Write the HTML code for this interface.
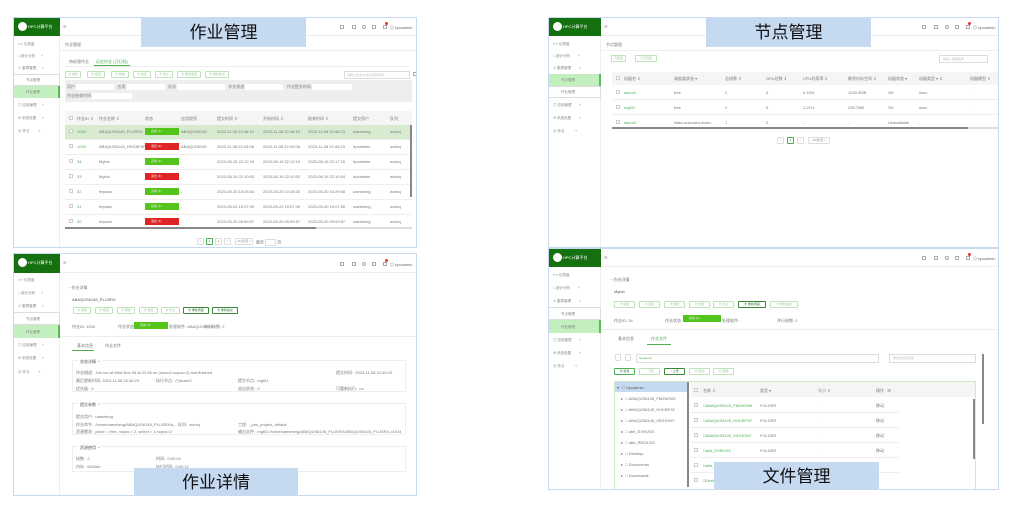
<!DOCTYPE html>
<html><head><meta charset="utf-8">
<style>
*{margin:0;padding:0;box-sizing:border-box}
body{width:1024px;height:505px;background:#fff;position:relative;overflow:hidden;font-family:"Liberation Sans","Noto Sans CJK SC",sans-serif;font-size:4px;color:#777}
.p{position:absolute;border:1px solid #c7daf2;background:#fff;overflow:hidden}
.a{position:absolute;white-space:nowrap}
.logo{position:absolute;left:0;top:0;height:18px;background:#15700f;color:#fff;font-size:4px;line-height:18px;padding-left:14px}
.logo:before{content:"";position:absolute;left:4px;top:4px;width:9px;height:9px;border-radius:50%;background:#fff}
.side{position:absolute;left:0;top:18px;bottom:0;border-right:1px solid #eee;background:#fff}
.hd{position:absolute;top:0;right:0;height:18px;border-bottom:1px solid #eee}
.si{position:absolute;left:4px;font-size:3.5px;color:#888}
.sub1{position:absolute;left:0;height:12px;background:#fff;border:1px solid #ddd;border-left:none}
.sub2{position:absolute;left:0;height:12px;background:#c3eebd;border-right:2px solid #5cb85c}
.lbl{position:absolute;background:#c5d9f1;color:#111;font-size:17px;text-align:center;font-family:"Liberation Sans","Noto Sans CJK SC",sans-serif}
.btn{position:absolute;height:7px;border:1px solid #bfe3b8;border-radius:1px;font-size:3px;color:#9c9;text-align:center;line-height:5px}
.btn.d{border-color:#3a8a3a;color:#2a6a2a}
.g{color:#4caf50}
.gb{position:absolute;background:#52c41a;color:#eee;font-size:3px;line-height:7px;padding-left:6px}
.rb{position:absolute;background:#e02424;color:#eee;font-size:3px;line-height:7px;padding-left:6px}
.cb{position:absolute;width:4px;height:4px;border:1px solid #ccc;background:#fff}
.ln{position:absolute;height:1px;background:#eee}
.box{position:absolute;border:1px solid #eee}
.ic{position:absolute;width:4px;height:4px;border:1px solid #aaa}
.dot{position:absolute;width:3px;height:3px;border-radius:50%;background:#e33}
</style></head><body>

<!-- PANEL 1 -->
<div class="p" style="left:13px;top:17px;width:404px;height:231px">
 <div class="side" style="width:46px"></div>
 <div class="logo" style="width:46px">HPC计算平台</div>
 <div class="hd" style="left:46px"></div>
 <div class="a" style="left:49px;top:6px;color:#888">☰</div>
 <div class="ic" style="left:326px;top:7px"></div><div class="ic" style="left:338px;top:7px"></div><div class="ic" style="left:348px;top:7px;border-radius:50%"></div><div class="ic" style="left:358px;top:7px"></div><div class="ic" style="left:369px;top:7px"></div><div class="dot" style="left:371px;top:4px"></div>
 <div class="a" style="left:376px;top:7px;color:#666">◎ hpcadmin</div>
 <div class="si" style="top:24px">⟺ 仪表盘</div>
 <div class="si" style="top:36px">□ 统计分析 &nbsp;&nbsp;&nbsp;&nbsp;&nbsp;˅</div>
 <div class="si" style="top:48px">♙ 集群管理 &nbsp;&nbsp;&nbsp;&nbsp;&nbsp;˄</div>
 <div class="sub1" style="top:56px;width:46px"></div><div class="si" style="left:12px;top:60px">节点管理</div>
 <div class="sub2" style="top:68px;width:46px"></div><div class="si" style="left:12px;top:72px">作业管理</div>
 <div class="si" style="top:85px">▤ 应用管理 &nbsp;&nbsp;&nbsp;&nbsp;&nbsp;˅</div>
 <div class="si" style="top:98px">⚙ 系统设置 &nbsp;&nbsp;&nbsp;&nbsp;&nbsp;˅</div>
 <div class="si" style="top:111px">▣ 作业 &nbsp;&nbsp;&nbsp;&nbsp;&nbsp;&nbsp;&nbsp;&nbsp;˅</div>
 <div class="a" style="left:51px;top:24px">作业管理</div>
 <div class="ln" style="left:46px;right:0;top:32px"></div>
 <div class="a" style="left:55px;top:41px">待处理作业</div>
 <div class="a g" style="left:82px;top:41px">历史作业 (已归档)</div>
 <div class="ln" style="left:51px;right:6px;top:48px"></div>
 <div class="a" style="left:80px;top:47px;width:36px;height:1px;background:#4caf50"></div>
 <div class="btn" style="left:51px;top:53px;width:16px">⊕ 编辑</div>
 <div class="btn" style="left:73px;top:53px;width:18px">⊕ 挂起</div>
 <div class="btn" style="left:97px;top:53px;width:18px">⊕ 释放</div>
 <div class="btn" style="left:119px;top:53px;width:18px">⊕ 恢复</div>
 <div class="btn" style="left:141px;top:53px;width:18px">⊕ 停止</div>
 <div class="btn" style="left:163px;top:53px;width:24px">⊕ 重新调度</div>
 <div class="btn" style="left:191px;top:53px;width:24px">⊕ 重新提交</div>
 <div class="box" style="left:330px;top:53px;width:66px;height:8px;border-color:#ddd"></div>
 <div class="a" style="left:333px;top:55px;font-size:3px;color:#bbb">请输入作业ID/作业名称搜索</div>
 <div class="ic" style="left:399px;top:54px"></div>
 <div class="a" style="left:51px;top:62px;width:347px;height:22px;background:#eee"></div>
 <div class="a" style="left:53px;top:66px">用户 <span style="display:inline-block;width:38px;height:6px;background:#fff;vertical-align:middle"></span> &nbsp;&nbsp;应用 <span style="display:inline-block;width:38px;height:6px;background:#fff;vertical-align:middle"></span> &nbsp;&nbsp;队列 <span style="display:inline-block;width:48px;height:6px;background:#fff;vertical-align:middle"></span> &nbsp;&nbsp;作业状态 <span style="display:inline-block;width:38px;height:6px;background:#fff;vertical-align:middle"></span> &nbsp;&nbsp;作业提交时间 <span style="display:inline-block;width:40px;height:6px;background:#fff;vertical-align:middle"></span></div>
 <div class="a" style="left:53px;top:75px">作业结束时间 <span style="display:inline-block;width:40px;height:6px;background:#fff;vertical-align:middle"></span></div>
 <div class="a" style="left:51px;top:93px;width:347px;height:14px;background:#f5f5f5"></div>
 <div class="a" style="left:51px;top:107px;width:347px;height:14px;background:#d6ebd0"></div>
 <div class="a" style="top:98px;left:55px;width:343px">
  <div class="cb" style="left:0;top:0"></div><div class="a" style="left:8px">作业ID ⇕</div><div class="a" style="left:30px">作业名称 ⇕</div><div class="a" style="left:76px">状态</div><div class="a" style="left:112px">应用程序</div><div class="a" style="left:148px">提交时间 ⇕</div><div class="a" style="left:194px">开始时间 ⇕</div><div class="a" style="left:239px">结束时间 ⇕</div><div class="a" style="left:284px">提交用户</div><div class="a" style="left:321px">队列</div>
 </div>
 <div class="a" style="top:106px;left:55px;width:343px;height:105px">
  <div class="a" style="top:0;left:0;width:343px;height:15px"><div class="cb" style="top:5px"></div><div class="a g" style="left:8px;top:5px">1034</div><div class="a" style="left:30px;top:5px">ABAQUS6145_PLUSRX</div><div class="gb" style="left:76px;top:4px;width:34px">完成 (F)</div><div class="a" style="left:112px;top:5px">ABAQUS6145</div><div class="a" style="left:148px;top:5px">2023-11-08 22:46:10</div><div class="a" style="left:194px;top:5px">2023-11-08 22:46:10</div><div class="a" style="left:239px;top:5px">2023-11-08 22:46:23</div><div class="a" style="left:284px;top:5px">uaesheng</div><div class="a" style="left:321px;top:5px">workq</div></div>
  <div class="ln" style="top:15px;left:-4px;width:347px"></div>
  <div class="a" style="top:15px;left:0;width:343px;height:15px"><div class="cb" style="top:5px"></div><div class="a g" style="left:8px;top:5px">1033</div><div class="a" style="left:30px;top:5px">ABAQUS6145_HHCBFSF</div><div class="rb" style="left:76px;top:4px;width:34px">退出 (F)</div><div class="a" style="left:112px;top:5px">ABAQUS6145</div><div class="a" style="left:148px;top:5px">2023-11-08 22:43:08</div><div class="a" style="left:194px;top:5px">2023-11-08 22:43:08</div><div class="a" style="left:239px;top:5px">2023-11-08 22:44:23</div><div class="a" style="left:284px;top:5px">hpcadmin</div><div class="a" style="left:321px;top:5px">workq</div></div>
  <div class="ln" style="top:30px;left:-4px;width:347px"></div>
  <div class="a" style="top:30px;left:0;width:343px;height:15px"><div class="cb" style="top:5px"></div><div class="a g" style="left:8px;top:5px">34</div><div class="a" style="left:30px;top:5px">Mylob</div><div class="gb" style="left:76px;top:4px;width:34px">完成 (F)</div><div class="a" style="left:112px;top:5px">-</div><div class="a" style="left:148px;top:5px">2023-06-19 22:12:19</div><div class="a" style="left:194px;top:5px">2023-06-19 22:12:19</div><div class="a" style="left:239px;top:5px">2023-06-19 22:17:20</div><div class="a" style="left:284px;top:5px">hpcadmin</div><div class="a" style="left:321px;top:5px">workq</div></div>
  <div class="ln" style="top:45px;left:-4px;width:347px"></div>
  <div class="a" style="top:45px;left:0;width:343px;height:15px"><div class="cb" style="top:5px"></div><div class="a g" style="left:8px;top:5px">33</div><div class="a" style="left:30px;top:5px">Mylob</div><div class="rb" style="left:76px;top:4px;width:34px">退出 (F)</div><div class="a" style="left:112px;top:5px">-</div><div class="a" style="left:148px;top:5px">2023-06-19 22:10:03</div><div class="a" style="left:194px;top:5px">2023-06-19 22:10:03</div><div class="a" style="left:239px;top:5px">2023-06-19 22:10:04</div><div class="a" style="left:284px;top:5px">hpcadmin</div><div class="a" style="left:321px;top:5px">workq</div></div>
  <div class="ln" style="top:60px;left:-4px;width:347px"></div>
  <div class="a" style="top:60px;left:0;width:343px;height:15px"><div class="cb" style="top:5px"></div><div class="a g" style="left:8px;top:5px">32</div><div class="a" style="left:30px;top:5px">fmpack</div><div class="gb" style="left:76px;top:4px;width:34px">完成 (F)</div><div class="a" style="left:112px;top:5px">-</div><div class="a" style="left:148px;top:5px">2023-05-20 10:28:34</div><div class="a" style="left:194px;top:5px">2023-05-20 10:28:34</div><div class="a" style="left:239px;top:5px">2023-05-20 10:29:08</div><div class="a" style="left:284px;top:5px">uaesheng</div><div class="a" style="left:321px;top:5px">workq</div></div>
  <div class="ln" style="top:75px;left:-4px;width:347px"></div>
  <div class="a" style="top:75px;left:0;width:343px;height:15px"><div class="cb" style="top:5px"></div><div class="a g" style="left:8px;top:5px">31</div><div class="a" style="left:30px;top:5px">fmpack</div><div class="gb" style="left:76px;top:4px;width:34px">完成 (F)</div><div class="a" style="left:112px;top:5px">-</div><div class="a" style="left:148px;top:5px">2023-05-20 10:07:49</div><div class="a" style="left:194px;top:5px">2023-05-20 10:07:49</div><div class="a" style="left:239px;top:5px">2023-05-20 10:07:50</div><div class="a" style="left:284px;top:5px">uaesheng</div><div class="a" style="left:321px;top:5px">workq</div></div>
  <div class="ln" style="top:90px;left:-4px;width:347px"></div>
  <div class="a" style="top:90px;left:0;width:343px;height:15px"><div class="cb" style="top:5px"></div><div class="a g" style="left:8px;top:5px">30</div><div class="a" style="left:30px;top:5px">fmpack</div><div class="rb" style="left:76px;top:4px;width:34px">退出 (F)</div><div class="a" style="left:112px;top:5px">-</div><div class="a" style="left:148px;top:5px">2023-05-20 09:59:57</div><div class="a" style="left:194px;top:5px">2023-05-20 09:59:57</div><div class="a" style="left:239px;top:5px">2023-05-20 09:59:57</div><div class="a" style="left:284px;top:5px">uaesheng</div><div class="a" style="left:321px;top:5px">workq</div></div>
 </div>
 <div class="a" style="left:51px;top:209px;width:347px;height:2px;background:#ddd"></div>
 <div class="a" style="left:51px;top:209px;width:251px;height:2px;background:#888"></div>
 <div class="a" style="left:396px;top:107px;width:2px;height:72px;background:#888"></div>
 <div class="btn" style="left:183px;top:220px;width:7px;border-color:#ddd;color:#aaa">&lt;</div>
 <div class="btn d" style="left:192px;top:220px;width:7px;border-color:#4caf50">1</div>
 <div class="btn" style="left:201px;top:220px;width:7px;border-color:#ddd;color:#888">2</div>
 <div class="btn" style="left:210px;top:220px;width:7px;border-color:#ddd;color:#aaa">&gt;</div>
 <div class="btn" style="left:221px;top:220px;width:18px;border-color:#ddd;color:#888">10 条/页 ˅</div>
 <div class="a" style="left:242px;top:221px">跳至 <span style="display:inline-block;width:11px;height:7px;border:1px solid #ddd;vertical-align:middle"></span> 页</div>
 <div class="lbl" style="left:127px;top:0;width:165px;height:29px;line-height:29px">作业管理</div>
</div>

<!-- PANEL 2 -->
<div class="p" style="left:548px;top:17px;width:451px;height:231px">
 <div class="side" style="width:52px"></div>
 <div class="logo" style="width:52px">HPC计算平台</div>
 <div class="hd" style="left:52px"></div>
 <div class="a" style="left:55px;top:6px;color:#888">☰</div>
 <div class="ic" style="left:373px;top:7px"></div><div class="ic" style="left:385px;top:7px"></div><div class="ic" style="left:396px;top:7px;border-radius:50%"></div><div class="ic" style="left:406px;top:7px"></div><div class="ic" style="left:417px;top:7px"></div><div class="dot" style="left:419px;top:4px"></div>
 <div class="a" style="left:424px;top:7px;color:#666">◎ hpcadmin</div>
 <div class="si" style="top:24px">⟺ 仪表盘</div>
 <div class="si" style="top:36px">□ 统计分析 &nbsp;&nbsp;&nbsp;&nbsp;&nbsp;&nbsp;&nbsp;˅</div>
 <div class="si" style="top:48px">♙ 集群管理 &nbsp;&nbsp;&nbsp;&nbsp;&nbsp;&nbsp;&nbsp;˄</div>
 <div class="sub2" style="top:56px;width:52px"></div><div class="si" style="left:12px;top:60px">节点管理</div>
 <div class="sub1" style="top:68px;width:52px"></div><div class="si" style="left:12px;top:72px">作业管理</div>
 <div class="si" style="top:85px">▤ 应用管理 &nbsp;&nbsp;&nbsp;&nbsp;&nbsp;&nbsp;&nbsp;˅</div>
 <div class="si" style="top:98px">⚙ 系统设置 &nbsp;&nbsp;&nbsp;&nbsp;&nbsp;&nbsp;&nbsp;˅</div>
 <div class="si" style="top:111px">▣ 作业 &nbsp;&nbsp;&nbsp;&nbsp;&nbsp;&nbsp;&nbsp;&nbsp;&nbsp;&nbsp;˅</div>
 <div class="a" style="left:57px;top:24px">节点管理</div>
 <div class="ln" style="left:52px;right:0;top:32px"></div>
 <div class="btn" style="left:62px;top:37px;width:15px">可调度</div>
 <div class="btn" style="left:86px;top:37px;width:22px">不可调度</div>
 <div class="box" style="left:390px;top:37px;width:49px;height:8px;border-color:#ddd"></div>
 <div class="a" style="left:394px;top:39px;font-size:3px;color:#bbb">请输入机器名称 &nbsp;&nbsp;&nbsp;&nbsp;&nbsp;&nbsp;&nbsp;&nbsp;&nbsp;&nbsp;⌕</div>
 <div class="a" style="left:63px;top:54px;width:388px;height:13px;background:#f5f5f5"></div>
 <div class="a" style="left:67px;top:58px;width:384px">
  <div class="cb"></div><div class="a" style="left:8px">机器名 ⇕</div><div class="a" style="left:58px">调度器状态 ▾</div><div class="a" style="left:109px">总核数 ⇕</div><div class="a" style="left:150px">GPU总数 ⇕</div><div class="a" style="left:187px">CPU利用率 ⇕</div><div class="a" style="left:232px">剩余内存空间 ⇕</div><div class="a" style="left:272px">机器状态 ▾</div><div class="a" style="left:303px">机器类型 ▾ ⇕</div><div class="a" style="left:354px">机器模型 ⇕</div>
 </div>
 <div class="a" style="left:67px;top:72px;width:384px"><div class="cb"></div><div class="a g" style="left:8px">slurm2</div><div class="a" style="left:58px">free</div><div class="a" style="left:109px">2</div><div class="a" style="left:150px">0</div><div class="a" style="left:187px">0.15%</div><div class="a" style="left:232px">1033.3MB</div><div class="a" style="left:272px">OK</div><div class="a" style="left:303px">linux</div><div class="a" style="left:354px">-</div></div>
 <div class="ln" style="left:63px;width:388px;top:81px"></div>
 <div class="a" style="left:67px;top:87px;width:384px"><div class="cb"></div><div class="a g" style="left:8px">mgt01</div><div class="a" style="left:58px">free</div><div class="a" style="left:109px">2</div><div class="a" style="left:150px">0</div><div class="a" style="left:187px">1.21%</div><div class="a" style="left:232px">230.7MB</div><div class="a" style="left:272px">OK</div><div class="a" style="left:303px">linux</div><div class="a" style="left:354px">-</div></div>
 <div class="ln" style="left:63px;width:388px;top:96px"></div>
 <div class="a" style="left:67px;top:102px;width:384px"><div class="cb"></div><div class="a g" style="left:8px">slurm3</div><div class="a" style="left:58px">state-unknown,down</div><div class="a" style="left:109px">1</div><div class="a" style="left:150px">0</div><div class="a" style="left:187px">-</div><div class="a" style="left:232px">-</div><div class="a" style="left:272px">Unavailable</div><div class="a" style="left:303px">-</div><div class="a" style="left:354px">-</div></div>
 <div class="a" style="left:63px;top:109px;width:388px;height:2px;background:#ddd"></div>
 <div class="a" style="left:63px;top:109px;width:356px;height:2px;background:#888"></div>
 <div class="btn" style="left:228px;top:119px;width:7px;border-color:#ddd;color:#aaa">&lt;</div>
 <div class="btn d" style="left:238px;top:119px;width:7px;border-color:#4caf50">1</div>
 <div class="btn" style="left:248px;top:119px;width:7px;border-color:#ddd;color:#aaa">&gt;</div>
 <div class="btn" style="left:259px;top:119px;width:22px;border-color:#ddd;color:#888">10 条/页 ˅</div>
 <div class="lbl" style="left:157px;top:0;width:165px;height:29px;line-height:29px">节点管理</div>
</div>

<!-- PANEL 3 -->
<div class="p" style="left:13px;top:253px;width:404px;height:243px">
 <div class="side" style="width:46px;top:19px"></div>
 <div class="logo" style="width:46px;height:19px">HPC计算平台</div>
 <div class="hd" style="left:46px;height:19px"></div>
 <div class="a" style="left:49px;top:6px;color:#888">☰</div>
 <div class="ic" style="left:326px;top:8px"></div><div class="ic" style="left:338px;top:8px"></div><div class="ic" style="left:348px;top:8px;border-radius:50%"></div><div class="ic" style="left:358px;top:8px"></div><div class="ic" style="left:369px;top:8px"></div><div class="dot" style="left:371px;top:5px"></div>
 <div class="a" style="left:376px;top:8px;color:#666">◎ hpcadmin</div>
 <div class="si" style="top:24px">⟺ 仪表盘</div>
 <div class="si" style="top:37px">□ 统计分析 &nbsp;&nbsp;&nbsp;&nbsp;&nbsp;˅</div>
 <div class="si" style="top:50px">♙ 集群管理 &nbsp;&nbsp;&nbsp;&nbsp;&nbsp;˄</div>
 <div class="sub1" style="top:58px;width:46px;height:13px"></div><div class="si" style="left:12px;top:63px">节点管理</div>
 <div class="sub2" style="top:71px;width:46px;height:13px"></div><div class="si" style="left:12px;top:76px">作业管理</div>
 <div class="si" style="top:89px">▤ 应用管理 &nbsp;&nbsp;&nbsp;&nbsp;&nbsp;˅</div>
 <div class="si" style="top:102px">⚙ 系统设置 &nbsp;&nbsp;&nbsp;&nbsp;&nbsp;˅</div>
 <div class="si" style="top:116px">▣ 作业 &nbsp;&nbsp;&nbsp;&nbsp;&nbsp;&nbsp;&nbsp;&nbsp;˅</div>
 <div class="a" style="left:55px;top:31px">‹ 作业详情</div>
 <div class="a" style="left:58px;top:43px;color:#555">ABAQUS6145_PLUSRX</div>
 <div class="btn" style="left:59px;top:53px;width:18px">⊕ 编辑</div>
 <div class="btn" style="left:81px;top:53px;width:18px">⊕ 挂起</div>
 <div class="btn" style="left:103px;top:53px;width:18px">⊕ 释放</div>
 <div class="btn" style="left:125px;top:53px;width:19px">⊕ 恢复</div>
 <div class="btn" style="left:147px;top:53px;width:19px">⊕ 停止</div>
 <div class="btn d" style="left:169px;top:53px;width:26px">⊕ 重新调度</div>
 <div class="btn d" style="left:198px;top:53px;width:26px">⊕ 重新提交</div>
 <div class="a" style="left:58px;top:70px">作业ID: 1034</div>
 <div class="a" style="left:104px;top:70px">作业状态:</div>
 <div class="gb" style="left:120px;top:68px;width:34px">完成 (F)</div>
 <div class="a" style="left:155px;top:70px">处理软件: ABAQUS6145</div>
 <div class="a" style="left:190px;top:70px">并行核数: 2</div>
 <div class="ln" style="left:46px;right:0;top:82px"></div>
 <div class="a" style="left:63px;top:89px">基本信息</div>
 <div class="a" style="left:91px;top:89px">作业文件</div>
 <div class="a" style="left:58px;top:96px;width:22px;height:1px;background:#4caf50"></div>
 <div class="box" style="left:58px;top:106px;width:334px;height:32px"></div>
 <div class="a" style="left:64px;top:105px;background:#fff;padding:0 2px;color:#555">状态详情 &nbsp;^</div>
 <div class="a" style="left:62px;top:116px">作业描述: &nbsp;Job run at Wed Nov 08 at 22:46 on (slurm2:ncpus=2) and finished</div>
 <div class="a" style="left:322px;top:116px">提交时间: &nbsp;2023-11-08 22:46:10</div>
 <div class="a" style="left:62px;top:124px">最后更新时间: 2023-11-08 22:46:23</div>
 <div class="a" style="left:142px;top:124px">执行节点: &nbsp;(*)slurm2</div>
 <div class="a" style="left:224px;top:124px">提交节点: &nbsp;mgt01</div>
 <div class="a" style="left:62px;top:132px">优先级: &nbsp;0</div>
 <div class="a" style="left:224px;top:132px">退出状态: &nbsp;0</div>
 <div class="a" style="left:322px;top:132px">可重新执行: &nbsp;no</div>
 <div class="box" style="left:58px;top:149px;width:334px;height:32px"></div>
 <div class="a" style="left:64px;top:148px;background:#fff;padding:0 2px;color:#555">提交参数 &nbsp;^</div>
 <div class="a" style="left:62px;top:160px">提交用户: &nbsp;uaesheng</div>
 <div class="a" style="left:62px;top:168px">作业命令: &nbsp;/home/uaesheng/ABAQUS6145_PLUSRX/q... 队列: &nbsp;workq</div>
 <div class="a" style="left:224px;top:168px">工程: &nbsp;_pbs_project_default</div>
 <div class="a" style="left:62px;top:175px">资源需求: &nbsp;place = free, ncpus = 2, select = 1:ncpus=2</div>
 <div class="a" style="left:224px;top:175px">输出文件: &nbsp;mgt01:/home/uaesheng/ABAQUS6145_PLUSRX/ABAQUS6145_PLUSRX.o1034</div>
 <div class="box" style="left:58px;top:192px;width:334px;height:26px"></div>
 <div class="a" style="left:64px;top:191px;background:#fff;padding:0 2px;color:#555">资源使用 &nbsp;^</div>
 <div class="a" style="left:62px;top:202px">核数: &nbsp;2</div>
 <div class="a" style="left:142px;top:202px">时间: &nbsp;0:00:02</div>
 <div class="a" style="left:62px;top:210px">内存: &nbsp;6420kb</div>
 <div class="a" style="left:142px;top:210px">执行时间: &nbsp;0:00:12</div>
 <div class="lbl" style="left:120px;top:214px;width:164px;height:29px;line-height:29px">作业详情</div>
</div>

<!-- PANEL 4 -->
<div class="p" style="left:548px;top:248px;width:451px;height:242px">
 <div class="side" style="width:52px"></div>
 <div class="logo" style="width:52px">HPC计算平台</div>
 <div class="hd" style="left:52px"></div>
 <div class="a" style="left:55px;top:6px;color:#888">☰</div>
 <div class="ic" style="left:373px;top:7px"></div><div class="ic" style="left:385px;top:7px"></div><div class="ic" style="left:396px;top:7px;border-radius:50%"></div><div class="ic" style="left:406px;top:7px"></div><div class="ic" style="left:417px;top:7px"></div><div class="dot" style="left:419px;top:4px"></div>
 <div class="a" style="left:424px;top:7px;color:#666">◎ hpcadmin</div>
 <div class="si" style="top:24px">⟺ 仪表盘</div>
 <div class="si" style="top:37px">□ 统计分析 &nbsp;&nbsp;&nbsp;&nbsp;&nbsp;&nbsp;&nbsp;˅</div>
 <div class="si" style="top:50px">♙ 集群管理 &nbsp;&nbsp;&nbsp;&nbsp;&nbsp;&nbsp;&nbsp;˄</div>
 <div class="sub1" style="top:58px;width:52px;height:13px"></div><div class="si" style="left:12px;top:63px">节点管理</div>
 <div class="sub2" style="top:71px;width:52px;height:13px"></div><div class="si" style="left:12px;top:76px">作业管理</div>
 <div class="si" style="top:89px">▤ 应用管理 &nbsp;&nbsp;&nbsp;&nbsp;&nbsp;&nbsp;&nbsp;˅</div>
 <div class="si" style="top:102px">⚙ 系统设置 &nbsp;&nbsp;&nbsp;&nbsp;&nbsp;&nbsp;&nbsp;˅</div>
 <div class="si" style="top:115px">▣ 作业 &nbsp;&nbsp;&nbsp;&nbsp;&nbsp;&nbsp;&nbsp;&nbsp;&nbsp;&nbsp;˅</div>
 <div class="a" style="left:62px;top:28px">‹ 作业详情</div>
 <div class="a" style="left:65px;top:40px;color:#555">Mylob</div>
 <div class="btn" style="left:65px;top:52px;width:21px">⊕ 编辑</div>
 <div class="btn" style="left:90px;top:52px;width:21px">⊕ 挂起</div>
 <div class="btn" style="left:115px;top:52px;width:21px">⊕ 释放</div>
 <div class="btn" style="left:140px;top:52px;width:21px">⊕ 恢复</div>
 <div class="btn" style="left:164px;top:52px;width:21px">⊕ 停止</div>
 <div class="btn d" style="left:189px;top:52px;width:28px">⊕ 重新调度</div>
 <div class="btn" style="left:221px;top:52px;width:28px">⊕ 重新提交</div>
 <div class="a" style="left:65px;top:69px">作业ID: 34</div>
 <div class="a" style="left:116px;top:69px">作业状态:</div>
 <div class="gb" style="left:134px;top:66px;width:38px">完成 (F)</div>
 <div class="a" style="left:173px;top:69px">处理软件: -</div>
 <div class="a" style="left:228px;top:69px">并行核数: 2</div>
 <div class="ln" style="left:52px;right:0;top:80px"></div>
 <div class="a" style="left:69px;top:87px">基本信息</div>
 <div class="a g" style="left:102px;top:87px">作业文件</div>
 <div class="a" style="left:98px;top:95px;width:24px;height:1px;background:#4caf50"></div>
 <div class="btn" style="left:66px;top:105px;width:6px;border-color:#ddd"></div>
 <div class="btn" style="left:76px;top:105px;width:6px;border-color:#ddd"></div>
 <div class="box" style="left:87px;top:105px;width:243px;height:9px;border-color:#ddd"></div>
 <div class="a g" style="left:90px;top:107px;font-size:3px">hpcadmin</div>
 <div class="box" style="left:340px;top:105px;width:87px;height:9px;border-color:#ddd"></div>
 <div class="a" style="left:344px;top:107px;font-size:3px;color:#bbb">按文件名称过滤</div>
 <div class="btn d" style="left:65px;top:119px;width:21px;border-color:#4caf50">⊕ 新建</div>
 <div class="btn" style="left:90px;top:119px;width:21px">↓ 下载</div>
 <div class="btn d" style="left:115px;top:119px;width:21px">↑ 上传</div>
 <div class="btn" style="left:140px;top:119px;width:21px">⊕ 移动</div>
 <div class="btn" style="left:164px;top:119px;width:21px">⊕ 删除</div>
 <div class="box" style="left:65px;top:132px;width:362px;height:110px;border-color:#cfe8c8"></div>
 <div class="a" style="left:66px;top:133px;width:73px;height:10px;background:#c5d9f1"></div>
 <div class="a" style="left:138px;top:133px;width:2px;height:105px;background:#888"></div>
 <div class="a" style="left:68px;top:136px;color:#555">▾ &nbsp;▱ hpcadmin</div>
 <div class="a" style="left:72px;top:147px">▸ &nbsp;□ ABAQUS6145_FMZWSIM</div>
 <div class="a" style="left:72px;top:158px">▸ &nbsp;□ ABAQUS6145_HHCBFSF</div>
 <div class="a" style="left:72px;top:169px">▸ &nbsp;□ ABAQUS6145_ISDHGNY</div>
 <div class="a" style="left:72px;top:180px">▸ &nbsp;□ abb_EXRUSS</div>
 <div class="a" style="left:72px;top:191px">▸ &nbsp;□ abb_RRZILDS</div>
 <div class="a" style="left:72px;top:202px">▸ &nbsp;□ Desktop</div>
 <div class="a" style="left:72px;top:213px">▸ &nbsp;□ Documents</div>
 <div class="a" style="left:72px;top:224px">▸ &nbsp;□ Downloads</div>
 <div class="a" style="left:142px;top:133px;width:284px;height:15px;background:#f5f5f5"></div>
 <div class="a" style="left:145px;top:139px;width:280px"><div class="cb"></div><div class="a" style="left:9px">名称 ⇕</div><div class="a" style="left:66px">类型 ▾</div><div class="a" style="left:124px">大小 ⇕</div><div class="a" style="left:182px">操作 &nbsp;&nbsp;⊞</div></div>
 <div class="a" style="left:145px;top:154px;width:280px"><div class="cb"></div><div class="a g" style="left:9px"><span style="color:#666">□</span>ABAQUS6145_FMZWSIM</div><div class="a" style="left:66px">FOLDER</div><div class="a" style="left:124px">-</div><div class="a" style="left:182px">移动</div></div>
 <div class="ln" style="left:142px;width:208px;top:163px"></div>
 <div class="a" style="left:145px;top:169px;width:280px"><div class="cb"></div><div class="a g" style="left:9px"><span style="color:#666">□</span>ABAQUS6145_HHCBFSF</div><div class="a" style="left:66px">FOLDER</div><div class="a" style="left:124px">-</div><div class="a" style="left:182px">移动</div></div>
 <div class="ln" style="left:142px;width:208px;top:178px"></div>
 <div class="a" style="left:145px;top:184px;width:280px"><div class="cb"></div><div class="a g" style="left:9px"><span style="color:#666">□</span>ABAQUS6145_ISDHGNY</div><div class="a" style="left:66px">FOLDER</div><div class="a" style="left:124px">-</div><div class="a" style="left:182px">移动</div></div>
 <div class="ln" style="left:142px;width:208px;top:193px"></div>
 <div class="a" style="left:145px;top:199px;width:280px"><div class="cb"></div><div class="a g" style="left:9px"><span style="color:#666">□</span>abb_EXRUSS</div><div class="a" style="left:66px">FOLDER</div><div class="a" style="left:124px">-</div><div class="a" style="left:182px">移动</div></div>
 <div class="ln" style="left:142px;width:208px;top:208px"></div>
 <div class="a" style="left:145px;top:214px;width:280px"><div class="cb"></div><div class="a g" style="left:9px"><span style="color:#666">□</span>abb_RRZILDS</div></div>
 <div class="ln" style="left:142px;width:208px;top:223px"></div>
 <div class="a" style="left:145px;top:229px;width:280px"><div class="cb"></div><div class="a g" style="left:9px"><span style="color:#666">□</span>Desktop</div></div>
 <div class="a" style="left:424px;top:150px;width:2px;height:60px;background:#888"></div>
 <div class="a" style="left:433px;top:105px;width:2px;height:70px;background:#888"></div>
 <div class="lbl" style="left:165px;top:213px;width:165px;height:29px;line-height:29px">文件管理</div>
</div>

</body></html>
